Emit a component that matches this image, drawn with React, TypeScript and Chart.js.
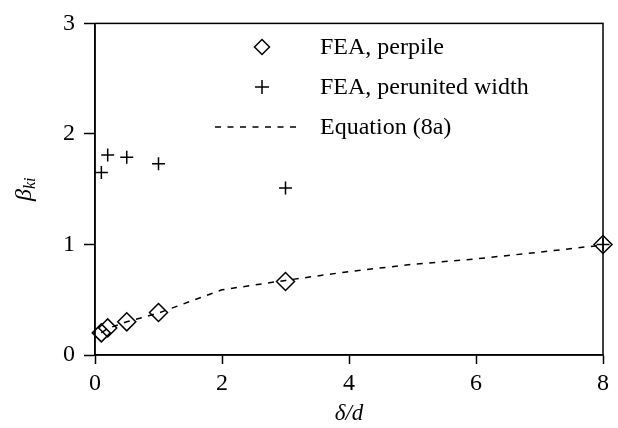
import React, { useEffect, useRef } from "react";
import { Chart, registerables } from "chart.js";

Chart.register(...registerables);

// δ/d values and β_ki results
const perPileX = [0.1, 0.2, 0.5, 1, 3, 8];
const perPileY = [0.2, 0.245, 0.3, 0.385, 0.665, 1.0];

const perWidthX = [0.1, 0.2, 0.5, 1, 3, 8];
const perWidthY = [1.65, 1.81, 1.79, 1.73, 1.51, 1.0];

const equationX = [0.1, 0.2, 0.5, 1, 2, 3, 4, 5, 6, 7, 8];
const equationY = [0.2, 0.24, 0.3, 0.38, 0.59, 0.675, 0.755, 0.82, 0.87, 0.93, 0.995];

const xTicks = [0, 2, 4, 6, 8];
const yTicks = [0, 1, 2, 3];

const legendLabels = ["FEA, perpile", "FEA, perunited width", "Equation (8a)"];

const SERIF = "'Liberation Serif', 'Times New Roman', serif";
const INK = "#000";
const LW = 1.5;

const toPoints = (xs: number[], ys: number[]) => xs.map((x, i) => ({ x, y: ys[i] }));

const framePlugin = {
  id: "frameAndLabels",
  afterDraw(chart: any) {
    const { ctx, chartArea } = chart;
    const { left, right, top, bottom } = chartArea;
    ctx.save();

    // box around the plot
    ctx.strokeStyle = INK;
    ctx.lineWidth = LW;
    ctx.strokeRect(left, top, right - left, bottom - top);

    // y-axis title: β with subscript ki, rotated
    ctx.fillStyle = INK;
    ctx.textBaseline = "alphabetic";
    ctx.save();
    ctx.translate(31, (top + bottom) / 2);
    ctx.rotate(-Math.PI / 2);
    ctx.font = `italic 24px ${SERIF}`;
    const wb = ctx.measureText("β").width;
    ctx.font = `italic 16px ${SERIF}`;
    const wk = ctx.measureText("ki").width;
    const start = -(wb + wk) / 2;
    ctx.font = `italic 24px ${SERIF}`;
    ctx.fillText("β", start, 0);
    ctx.font = `italic 16px ${SERIF}`;
    ctx.fillText("ki", start + wb, 4);
    ctx.restore();

    // x-axis title
    ctx.font = `italic 23px ${SERIF}`;
    ctx.textAlign = "center";
    ctx.fillText("δ/d", (left + right) / 2, 420);

    // legend
    const lx = 262;
    const rows = [47, 87, 127];
    ctx.textAlign = "left";
    ctx.textBaseline = "middle";
    ctx.lineWidth = LW;

    // diamond
    const r = 7.5;
    ctx.beginPath();
    ctx.moveTo(lx, rows[0] - r);
    ctx.lineTo(lx + r, rows[0]);
    ctx.lineTo(lx, rows[0] + r);
    ctx.lineTo(lx - r, rows[0]);
    ctx.closePath();
    ctx.stroke();

    // plus
    const p = 7;
    ctx.beginPath();
    ctx.moveTo(lx - p, rows[1]);
    ctx.lineTo(lx + p, rows[1]);
    ctx.moveTo(lx, rows[1] - p);
    ctx.lineTo(lx, rows[1] + p);
    ctx.stroke();

    // dashed line
    ctx.setLineDash([6, 6.5]);
    ctx.beginPath();
    ctx.moveTo(215, rows[2]);
    ctx.lineTo(301, rows[2]);
    ctx.stroke();
    ctx.setLineDash([]);

    ctx.font = `24px ${SERIF}`;
    legendLabels.forEach((t, i) => ctx.fillText(t, 320, rows[i] + 1));

    ctx.restore();
  },
};

export default function App() {
  const ref = useRef<HTMLCanvasElement | null>(null);

  useEffect(() => {
    document.body.style.margin = "0";
    const canvas = ref.current;
    if (!canvas) return;

    const chart = new Chart(canvas, {
      type: "scatter",
      data: {
        datasets: [
          {
            type: "line",
            label: legendLabels[2],
            data: toPoints(equationX, equationY),
            borderColor: INK,
            borderWidth: LW,
            borderDash: [6, 6.5],
            pointRadius: 0,
            fill: false,
            tension: 0,
            clip: false,
          } as any,
          {
            label: legendLabels[0],
            data: toPoints(perPileX, perPileY),
            pointStyle: "rectRot",
            pointRadius: 9,
            borderColor: INK,
            backgroundColor: "rgba(0,0,0,0)",
            borderWidth: LW,
            clip: false,
          } as any,
          {
            label: legendLabels[1],
            data: toPoints(perWidthX, perWidthY),
            pointStyle: "cross",
            pointRadius: 6.5,
            borderColor: INK,
            borderWidth: LW,
            clip: false,
          } as any,
        ],
      },
      options: {
        animation: false,
        responsive: false,
        maintainAspectRatio: false,
        layout: { padding: { left: 0, right: 15, top: 17, bottom: 0 } },
        plugins: {
          legend: { display: false },
          tooltip: { enabled: false },
        },
        scales: {
          x: {
            type: "linear",
            min: 0,
            max: 8,
            afterBuildTicks: (scale: any) => {
              scale.ticks = xTicks.map((v) => ({ value: v }));
            },
            afterFit: (scale: any) => {
              scale.height = 73;
            },
            grid: {
              drawOnChartArea: false,
              drawTicks: true,
              tickLength: 9,
              tickWidth: LW,
              tickColor: INK,
            },
            border: { display: true, color: INK, width: LW },
            ticks: {
              color: INK,
              font: { family: SERIF, size: 24 },
              padding: 5,
              maxRotation: 0,
            },
          },
          y: {
            type: "linear",
            min: 0,
            max: 3,
            afterBuildTicks: (scale: any) => {
              scale.ticks = yTicks.map((v) => ({ value: v }));
            },
            afterFit: (scale: any) => {
              scale.width = 95;
            },
            grid: {
              drawOnChartArea: false,
              drawTicks: true,
              tickLength: 11,
              tickWidth: LW,
              tickColor: INK,
            },
            border: { display: true, color: INK, width: LW },
            ticks: {
              color: INK,
              font: { family: SERIF, size: 24 },
              padding: 9,
            },
          },
        },
      },
      plugins: [framePlugin],
    });

    return () => chart.destroy();
  }, []);

  return (
    <div style={{ width: 618, height: 428, background: "#fff" }}>
      <canvas ref={ref} width={618} height={428} style={{ display: "block" }} />
    </div>
  );
}
